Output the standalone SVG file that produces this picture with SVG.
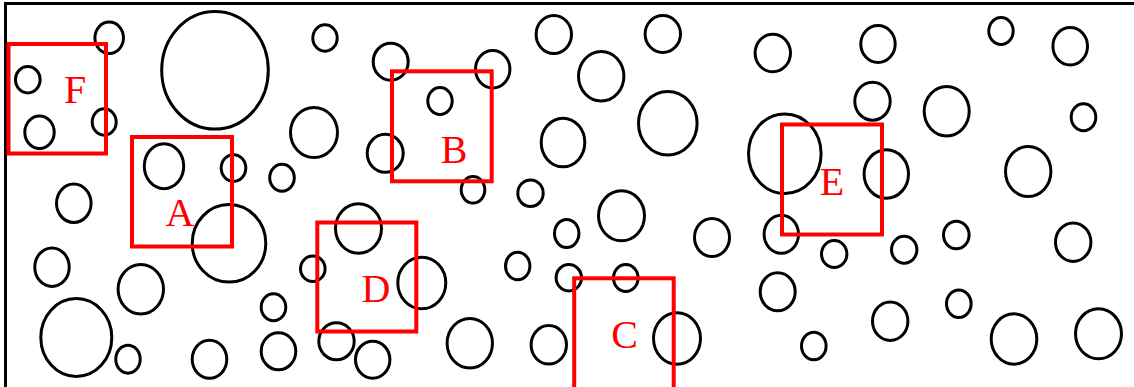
<svg xmlns="http://www.w3.org/2000/svg" width="1134" height="387" viewBox="0 0 1134 387">
  <style>
    .frame { fill: none; stroke: #000; stroke-width: 3; }
    .pore { fill: none; stroke: #000; stroke-width: 3; }
    .zone { fill: none; stroke: #ff0000; stroke-width: 4; }
    .tag { fill: #ff0000; font-family: "Liberation Serif", "Times New Roman", serif; font-size: 40px; text-anchor: middle; }
  </style>
  <rect width="1134" height="387" fill="#fff"/>
  <!-- outer frame, right and bottom sides fall outside the view -->
  <rect class="frame" x="5.5" y="3.5" width="1140" height="400"/>

  <g id="pores">
    <ellipse class="pore" cx="109.2" cy="37.8" rx="14.3" ry="15.7"/>
    <ellipse class="pore" cx="215" cy="70.3" rx="53.3" ry="58.8"/>
    <ellipse class="pore" cx="325" cy="38" rx="12.2" ry="13.2"/>
    <ellipse class="pore" cx="390.7" cy="61.7" rx="17.5" ry="18.5"/>
    <ellipse class="pore" cx="492.7" cy="69.2" rx="17.2" ry="18.7"/>
    <ellipse class="pore" cx="553.8" cy="34.5" rx="17.7" ry="19"/>
    <ellipse class="pore" cx="662.8" cy="34" rx="17.7" ry="18.5"/>
    <ellipse class="pore" cx="601.2" cy="76.3" rx="22.7" ry="24.8"/>
    <ellipse class="pore" cx="772.8" cy="53" rx="17.7" ry="18.8"/>
    <ellipse class="pore" cx="878" cy="44" rx="17.2" ry="18.5"/>
    <ellipse class="pore" cx="1001" cy="31" rx="12.2" ry="13.5"/>
    <ellipse class="pore" cx="1070.2" cy="46.3" rx="17.3" ry="18.8"/>

    <ellipse class="pore" cx="27.8" cy="79.7" rx="12.3" ry="13.2"/>
    <ellipse class="pore" cx="39.5" cy="132.2" rx="14.7" ry="16.3"/>
    <ellipse class="pore" cx="104.2" cy="122" rx="12" ry="13.2"/>
    <ellipse class="pore" cx="440" cy="101" rx="12.2" ry="13.5"/>
    <ellipse class="pore" cx="314" cy="132.5" rx="23.5" ry="25"/>
    <ellipse class="pore" cx="385.2" cy="153.3" rx="18" ry="19"/>
    <ellipse class="pore" cx="563" cy="142.5" rx="21.8" ry="24.3"/>
    <ellipse class="pore" cx="667.8" cy="123.3" rx="29.3" ry="31.8"/>
    <ellipse class="pore" cx="872.5" cy="101.2" rx="17.7" ry="19"/>
    <ellipse class="pore" cx="946.7" cy="111.2" rx="22.5" ry="24.7"/>
    <ellipse class="pore" cx="1083.5" cy="117.3" rx="12.3" ry="13.5"/>

    <ellipse class="pore" cx="164" cy="166.2" rx="19.7" ry="22.5"/>
    <ellipse class="pore" cx="233.5" cy="168" rx="12.3" ry="13.3"/>
    <ellipse class="pore" cx="282" cy="177.7" rx="12.3" ry="13.5"/>
    <ellipse class="pore" cx="473" cy="189.8" rx="11.8" ry="13.3"/>
    <ellipse class="pore" cx="530.5" cy="193.2" rx="12.7" ry="13.3"/>
    <ellipse class="pore" cx="784.8" cy="153.7" rx="36.3" ry="39.8"/>
    <ellipse class="pore" cx="886.3" cy="174" rx="22.2" ry="24.2"/>
    <ellipse class="pore" cx="1028.2" cy="171.5" rx="22.7" ry="25"/>

    <ellipse class="pore" cx="73.8" cy="203.3" rx="17.3" ry="19.2"/>
    <ellipse class="pore" cx="229" cy="243.3" rx="36.8" ry="38.8"/>
    <ellipse class="pore" cx="358.5" cy="228.5" rx="23" ry="24.7"/>
    <ellipse class="pore" cx="621.5" cy="215.8" rx="23" ry="25"/>
    <ellipse class="pore" cx="566.7" cy="233.5" rx="12.2" ry="14"/>
    <ellipse class="pore" cx="712" cy="237.5" rx="17.5" ry="19"/>
    <ellipse class="pore" cx="781.3" cy="234.2" rx="17.2" ry="19"/>
    <ellipse class="pore" cx="834.2" cy="254" rx="12.7" ry="13.5"/>
    <ellipse class="pore" cx="904.2" cy="249.7" rx="12.7" ry="13.5"/>
    <ellipse class="pore" cx="956.3" cy="235" rx="12.8" ry="13.8"/>
    <ellipse class="pore" cx="1073.2" cy="242.2" rx="17.7" ry="19.3"/>

    <ellipse class="pore" cx="52" cy="267.2" rx="17.2" ry="19.3"/>
    <ellipse class="pore" cx="140.8" cy="289.3" rx="22.7" ry="24.8"/>
    <ellipse class="pore" cx="312.8" cy="268.8" rx="12.3" ry="12.7"/>
    <ellipse class="pore" cx="421.8" cy="283" rx="24" ry="25.8"/>
    <ellipse class="pore" cx="517.7" cy="266" rx="12.2" ry="13.8"/>
    <ellipse class="pore" cx="568.8" cy="277.7" rx="12.7" ry="13.2"/>
    <ellipse class="pore" cx="625.8" cy="278" rx="12.3" ry="13.5"/>
    <ellipse class="pore" cx="777.7" cy="291.8" rx="17.5" ry="19"/>
    <ellipse class="pore" cx="958.8" cy="303.8" rx="12.3" ry="13.7"/>

    <ellipse class="pore" cx="273.5" cy="307.3" rx="12.3" ry="13.5"/>
    <ellipse class="pore" cx="76.3" cy="337.5" rx="35.5" ry="39"/>
    <ellipse class="pore" cx="128" cy="359.2" rx="12.2" ry="14"/>
    <ellipse class="pore" cx="209.5" cy="359.2" rx="17.3" ry="19"/>
    <ellipse class="pore" cx="278.5" cy="351.3" rx="17.3" ry="18.5"/>
    <ellipse class="pore" cx="336.5" cy="341.3" rx="17.7" ry="18.5"/>
    <ellipse class="pore" cx="372.7" cy="359.7" rx="17.2" ry="18.5"/>
    <ellipse class="pore" cx="469.8" cy="343.3" rx="22.7" ry="24.8"/>
    <ellipse class="pore" cx="548.8" cy="344.8" rx="17.7" ry="19.3"/>
    <ellipse class="pore" cx="677" cy="338.5" rx="23.5" ry="25.7"/>
    <ellipse class="pore" cx="813.8" cy="346" rx="12.3" ry="13.8"/>
    <ellipse class="pore" cx="890.2" cy="321.2" rx="17.7" ry="19.3"/>
    <ellipse class="pore" cx="1014" cy="339" rx="22.8" ry="25.2"/>
    <ellipse class="pore" cx="1098.5" cy="333.8" rx="23" ry="25"/>
  </g>

  <g id="zone-F">
    <rect class="zone" x="8.5" y="44" width="97.5" height="109.5"/>
    <text class="tag" x="75" y="103">F</text>
  </g>
  <g id="zone-A">
    <rect class="zone" x="132" y="137" width="100" height="109.5"/>
    <text class="tag" x="180" y="226">A</text>
  </g>
  <g id="zone-B">
    <rect class="zone" x="392" y="71.3" width="99.7" height="110"/>
    <text class="tag" x="454" y="162.5">B</text>
  </g>
  <g id="zone-D">
    <rect class="zone" x="317.3" y="222.5" width="99" height="109"/>
    <text class="tag" x="376" y="302">D</text>
  </g>
  <g id="zone-C">
    <rect class="zone" x="574.2" y="278.3" width="99.5" height="112"/>
    <text class="tag" x="624.5" y="348">C</text>
  </g>
  <g id="zone-E">
    <rect class="zone" x="782" y="124.5" width="100" height="110"/>
    <text class="tag" x="832" y="194.5">E</text>
  </g>
</svg>
